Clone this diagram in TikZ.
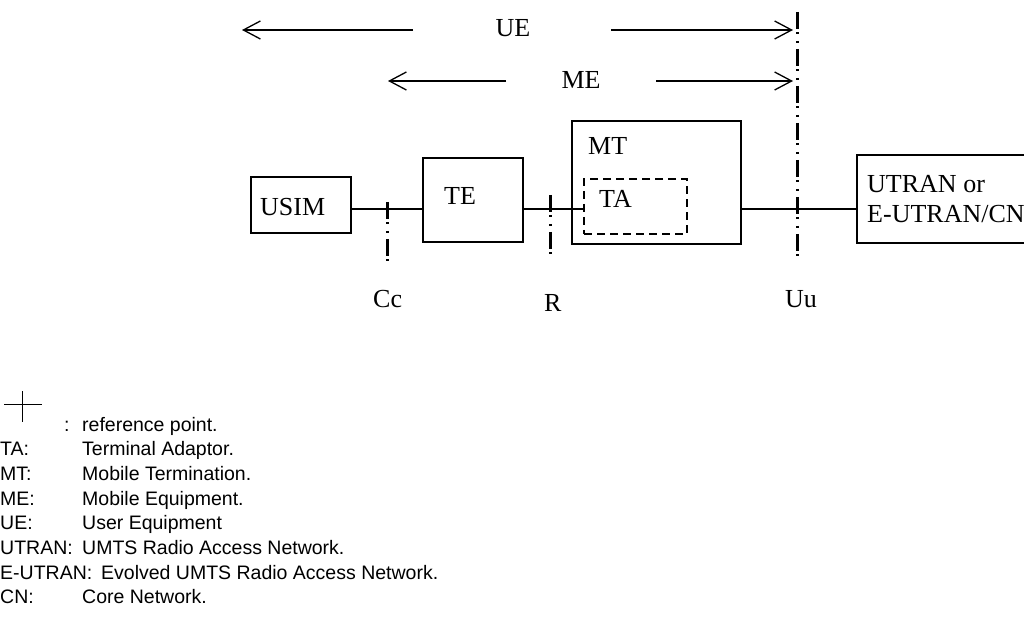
\documentclass[tikz,border=0pt]{standalone}
\usepackage{fontspec}
\setmainfont{Liberation Serif}
\newfontfamily\legendfont{Liberation Sans}
\usetikzlibrary{arrows.meta}
\begin{document}
\begin{tikzpicture}[x=1pt,y=-1pt,
  box/.style={draw,line width=1.3pt,inner sep=0pt,outer sep=0pt,anchor=north west},
  tabox/.style={draw,line width=2pt,dash pattern=on 8pt off 5pt,inner sep=0pt,outer sep=0pt,anchor=north west},
  conn/.style={line width=1.8pt},
  refline/.style={line width=3pt,dash pattern=on 17pt off 3.5pt on 1.8pt off 6.6pt on 1.8pt off 6.3pt},
  lbl/.style={inner sep=0pt,anchor=base west,font=\fontsize{26}{30}\selectfont},
  leg/.style={inner sep=0pt,anchor=base west,font=\legendfont\fontsize{19.5}{24}\selectfont},
  span/.style={line width=1.3pt,-{Straight Barb[length=17pt,width=18pt,line width=1.3pt]}}
]
\useasboundingbox (0,0) rectangle (1024,617);
% boxes
\node[box,minimum width=100pt,minimum height=56pt] (usim) at (251,177) {};
\node[box,minimum width=100pt,minimum height=84pt] (te) at (423,158) {};
\node[box,minimum width=169pt,minimum height=123pt] (mt) at (572,121) {};
\node[tabox,minimum width=103pt,minimum height=55pt] (ta) at (584,179) {};
\node[box,minimum width=180pt,minimum height=88pt] (utran) at (857,155) {};
% box texts
\node[lbl] (usimt) at (260,216) {USIM};
\node[lbl] (tet) at (444,205) {TE};
\node[lbl] (mtt) at (588,155) {MT};
\node[lbl] (tat) at (599,208) {TA};
\node[lbl] (utrant1) at (867,193) {UTRAN or};
\node[lbl] (utrant2) at (867,223) {E-UTRAN/CN};
% connectors
\coordinate (main) at (0,209);
\draw[conn] (usim.east |- main) -- (te.west |- main);
\draw[conn] (te.east |- main) -- (ta.west |- main);
\draw[conn] (mt.east |- main) -- (utran.west |- main);
% reference points
\coordinate (cctop) at (387,202);
\coordinate (ccbot) at (387,263);
\coordinate (rtop) at (550,195);
\coordinate (rbot) at (550,256);
\coordinate (uutop) at (797,12);
\coordinate (uubot) at (797,256);
\draw[refline] (cctop) -- (ccbot);
\draw[refline] (rtop) -- (rbot);
\draw[refline] (uutop) -- (uubot);
\node[lbl] (cc) at (373,307) {Cc};
\node[lbl] (r) at (544,312) {R};
\node[lbl] (uu) at (785,307) {Uu};
% UE / ME spans
\node[lbl,anchor=base] (ue) at (513,37) {UE};
\node[lbl,anchor=base] (me) at (581,89) {ME};
\coordinate (ueLs) at (413,30);
\coordinate (ueLt) at (242,30);
\coordinate (ueRs) at (611,30);
\coordinate (ueRt) at (793,30);
\coordinate (meLs) at (506,81);
\coordinate (meLt) at (388,81);
\coordinate (meRs) at (656,81);
\coordinate (meRt) at (793,81);
\draw[span] (ueLs) -- (ueLt);
\draw[span] (ueRs) -- (ueRt);
\draw[span] (meLs) -- (meLt);
\draw[span] (meRs) -- (meRt);
% legend
\coordinate (crl) at (4,404);
\coordinate (crr) at (42,404);
\coordinate (crt) at (22,391);
\coordinate (crb) at (22,422);
\draw[line width=0.9pt] (crl) -- (crr);
\draw[line width=0.9pt] (crt) -- (crb);
\node[leg] (l0a) at (64,431) {:};
\node[leg] (l0b) at (82,431) {reference point.};
\node[leg] (l1a) at (0,455.7) {TA:};
\node[leg] (l1b) at (82,455.7) {Terminal Adaptor.};
\node[leg] (l2a) at (0,480.4) {MT:};
\node[leg] (l2b) at (82,480.4) {Mobile Termination.};
\node[leg] (l3a) at (0,505.1) {ME:};
\node[leg] (l3b) at (82,505.1) {Mobile Equipment.};
\node[leg] (l4a) at (0,529.8) {UE:};
\node[leg] (l4b) at (82,529.8) {User Equipment};
\node[leg] (l5a) at (0,554.5) {UTRAN:};
\node[leg] (l5b) at (82,554.5) {UMTS Radio Access Network.};
\node[leg] (l6a) at (0,579.2) {E-UTRAN:};
\node[leg] (l6b) at (101,579.2) {Evolved UMTS Radio Access Network.};
\node[leg] (l7a) at (0,603.9) {CN:};
\node[leg] (l7b) at (82,603.9) {Core Network.};
\end{tikzpicture}
\end{document}
